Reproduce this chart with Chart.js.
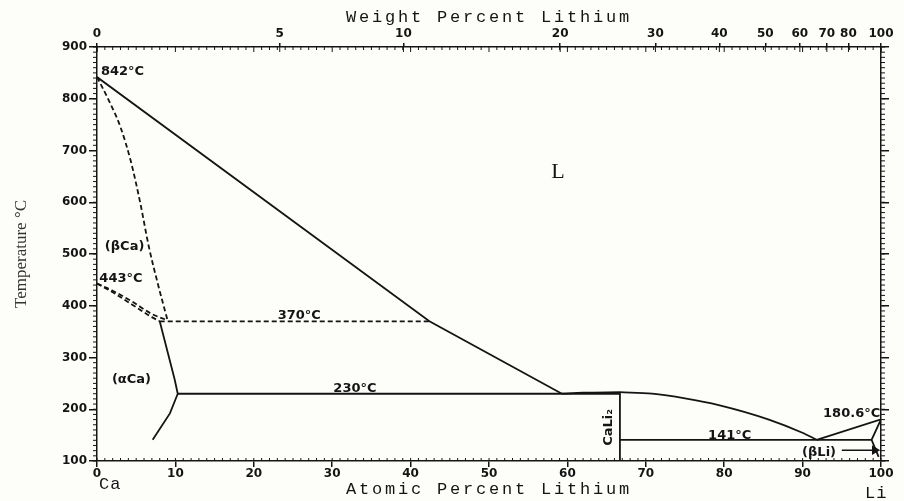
<!DOCTYPE html>
<html>
<head>
<meta charset="utf-8">
<script src="https://cdn.jsdelivr.net/npm/chart.js@4.4.1/dist/chart.umd.min.js"></script>
<style>
  html, body { margin: 0; padding: 0; background: #fdfdfa; }
</style>
</head>
<body>
<canvas id="myChart" width="904" height="501"></canvas>
<script>
// phase boundaries, [atomic % Li, temperature C]
var liquidusCa    = [[0, 842], [42.4, 370], [59.3, 230]];
var liquidusCaLi2 = [[59.3, 230], [62, 232], [66.7, 233]];
var liquidusLi    = [[66.7, 233], [70.8, 230], [75, 221], [79.3, 208], [85.7, 180], [89.9, 155], [91.8, 141]];
var liMelt        = [[91.8, 141], [100, 180.6]];
var liSolvus      = [[100, 180.6], [98.8, 141], [99.7, 108]];
var eutectic230   = [[10.3, 230], [66.7, 230]];
var eutectic141   = [[66.7, 141], [98.8, 141]];
var cali2Line     = [[66.7, 100], [66.7, 233]];
var alphaCa       = [[8.0, 370], [9.9, 258], [10.3, 230], [9.3, 192], [7.1, 141]];
var betaCa        = [[0, 842], [1.5, 797], [3.0, 745], [4.3, 680], [5.5, 600], [6.6, 515], [7.8, 440], [9.0, 372]];
var transUpper    = [[0, 443], [2, 429], [4.5, 408], [7, 384], [9.0, 372]];
var transLower    = [[0, 443], [2, 426], [4.5, 402], [7, 378], [8.0, 370]];
var eutectoid370  = [[8.0, 370], [42.4, 370]];
var liArrow       = [[95.0, 121], [99.2, 121]];

var tempTicks   = [100, 200, 300, 400, 500, 600, 700, 800, 900];
var atomicTicks = [0, 10, 20, 30, 40, 50, 60, 70, 80, 90, 100];
var weightTicks = [0, 5, 10, 20, 30, 40, 50, 60, 70, 80, 100];

var ink = '#141414';

function wtToAt(w) {
  var li = w / 6.94, ca = (100 - w) / 40.08;
  return 100 * li / (li + ca);
}

function pts(arr) {
  return arr.map(function(p) { return {x: p[0], y: p[1]}; });
}

function line(data, dashed, smooth) {
  return {
    data: pts(data),
    showLine: true,
    borderColor: ink,
    borderWidth: 1.8,
    borderDash: dashed ? [5, 3] : [],
    pointRadius: 0,
    cubicInterpolationMode: smooth ? 'monotone' : 'default',
    tension: 0
  };
}

var tickFont = {family: 'DejaVu Sans', size: 12, weight: 'bold'};

// minor ticks, axis titles and text in the field
var extras = {
  id: 'extras',
  afterDraw: function(chart) {
    var ctx = chart.ctx, a = chart.chartArea;
    var sx = chart.scales.x, sy = chart.scales.y;
    ctx.save();
    ctx.strokeStyle = ink;
    ctx.lineWidth = 1;
    ctx.beginPath();
    for (var v = 0; v <= 100; v++) {
      var px = sx.getPixelForValue(v);
      var len = v % 10 === 0 ? 5 : 3;
      ctx.moveTo(px, a.bottom); ctx.lineTo(px, a.bottom - 3);
      ctx.moveTo(px, a.top); ctx.lineTo(px, a.top + len);
    }
    for (var t = 100; t <= 900; t += 10) {
      var py = sy.getPixelForValue(t);
      ctx.moveTo(a.left, py); ctx.lineTo(a.left - 4, py);
      ctx.moveTo(a.right, py); ctx.lineTo(a.right + 4, py);
    }
    weightTicks.forEach(function(w) {
      var px = sx.getPixelForValue(wtToAt(w));
      ctx.moveTo(px, a.top); ctx.lineTo(px, a.top + 5);
    });
    ctx.stroke();

    ctx.fillStyle = ink;
    ctx.font = '17px "Liberation Mono"';
    ctx.letterSpacing = '2.8px';
    ctx.textBaseline = 'middle';
    ctx.textAlign = 'center';
    ctx.fillText('Weight Percent Lithium', (a.left + a.right) / 2, 17);
    ctx.fillText('Atomic Percent Lithium', (a.left + a.right) / 2, 489);
    ctx.letterSpacing = '1px';
    ctx.textAlign = 'left';
    ctx.fillText('Ca', a.left + 2, 484);
    ctx.fillText('Li', a.right - 16, 493);
    ctx.letterSpacing = '0px';

    var notes = [
      ['842°C', 0.5, 853, 'left'],
      ['443°C', 0.3, 453, 'left'],
      ['(βCa)', 1.0, 514, 'left'],
      ['370°C', 25.8, 381, 'center'],
      ['230°C', 32.9, 239, 'center'],
      ['(αCa)', 1.9, 258, 'left'],
      ['141°C', 80.7, 150, 'center'],
      ['180.6°C', 99.9, 192, 'right'],
      ['(βLi)', 92.1, 117, 'center']
    ];
    ctx.font = 'bold 13px "DejaVu Sans"';
    notes.forEach(function(n) {
      ctx.textAlign = n[3];
      ctx.fillText(n[0], sx.getPixelForValue(n[1]), sy.getPixelForValue(n[2]));
    });

    ctx.font = '22px "Liberation Serif"';
    ctx.textAlign = 'center';
    ctx.fillText('L', sx.getPixelForValue(58.8), sy.getPixelForValue(658));

    ctx.translate(sx.getPixelForValue(65.3), sy.getPixelForValue(165));
    ctx.rotate(-Math.PI / 2);
    ctx.font = 'bold 13px "DejaVu Sans"';
    ctx.fillText('CaLi₂', 0, 0);
    ctx.restore();
  }
};

var arrowSet = line(liArrow, false);
arrowSet.pointRadius = [0, 4];
arrowSet.pointStyle = 'triangle';
arrowSet.pointRotation = 90;
arrowSet.pointBackgroundColor = ink;
arrowSet.pointBorderColor = ink;
arrowSet.borderWidth = 1.5;

new Chart(document.getElementById('myChart').getContext('2d'), {
  type: 'scatter',
  data: {
    datasets: [
      line(liquidusCa), line(liquidusCaLi2, false, true),
      line(liquidusLi, false, true), line(liMelt),
      line(liSolvus), line(eutectic230), line(eutectic141), line(cali2Line),
      line(alphaCa), line(betaCa, true, true), line(transUpper, true, true),
      line(transLower, true, true), line(eutectoid370, true), arrowSet
    ]
  },
  options: {
    responsive: false,
    devicePixelRatio: 1,
    animation: false,
    layout: {padding: 0},
    plugins: {legend: {display: false}, tooltip: {enabled: false}},
    scales: {
      x: {
        type: 'linear', position: 'bottom', min: 0, max: 100,
        afterBuildTicks: function(s) { s.ticks = atomicTicks.map(function(v) { return {value: v}; }); },
        ticks: {color: ink, font: tickFont, padding: 0, autoSkip: false, maxRotation: 0},
        grid: {drawOnChartArea: false, tickLength: 6, color: ink, lineWidth: 1.5},
        border: {color: ink, width: 1.5},
        afterFit: function(s) { s.height = 40; }
      },
      x2: {
        type: 'linear', position: 'top', min: 0, max: 100,
        afterBuildTicks: function(s) { s.ticks = weightTicks.map(function(w) { return {value: wtToAt(w)}; }); },
        ticks: {
          color: ink, font: tickFont, padding: 2, autoSkip: false, maxRotation: 0,
          callback: function(v, i) { return String(weightTicks[i]); }
        },
        grid: {drawOnChartArea: false, tickLength: 4, color: ink, lineWidth: 1.5},
        border: {color: ink, width: 1.5},
        afterFit: function(s) { s.height = 47; }
      },
      y: {
        type: 'linear', position: 'left', min: 100, max: 900,
        afterBuildTicks: function(s) { s.ticks = tempTicks.map(function(v) { return {value: v}; }); },
        ticks: {color: ink, font: tickFont, padding: 2},
        grid: {drawOnChartArea: false, tickLength: 8, color: ink, lineWidth: 1.5},
        border: {color: ink, width: 1.5},
        title: {
          display: true, text: 'Temperature °C', color: '#333',
          font: {family: 'Liberation Serif', size: 17}, padding: {top: 11, bottom: 0}
        },
        afterFit: function(s) { s.width = 97; }
      },
      y2: {
        type: 'linear', position: 'right', min: 100, max: 900,
        afterBuildTicks: function(s) { s.ticks = tempTicks.map(function(v) { return {value: v}; }); },
        ticks: {display: false},
        grid: {drawOnChartArea: false, tickLength: 8, color: ink, lineWidth: 1.5},
        border: {color: ink, width: 1.5},
        afterFit: function(s) { s.width = 23; }
      }
    }
  },
  plugins: [extras]
});
</script>
</body>
</html>
